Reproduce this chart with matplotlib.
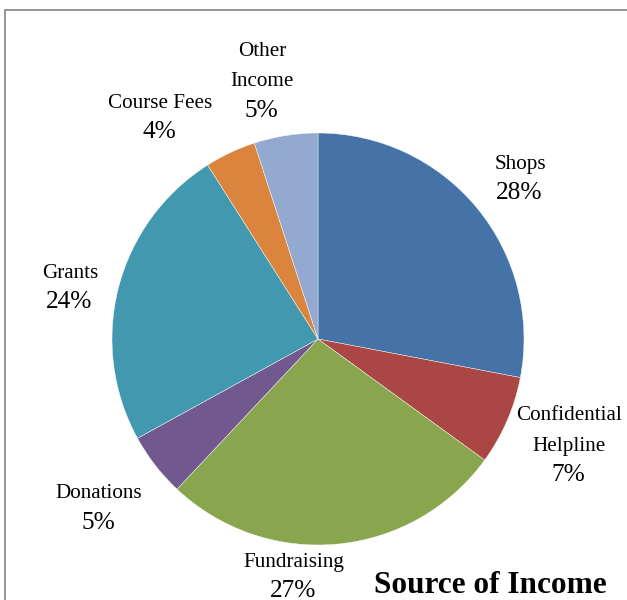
import matplotlib
matplotlib.use("Agg")
import matplotlib.pyplot as plt
from matplotlib.patches import Rectangle

# income sources, clockwise from 12 o'clock
sources = ["Shops", "Confidential\nHelpline", "Fundraising", "Donations",
           "Grants", "Course Fees", "Other\nIncome"]
shares = [28, 7, 27, 5, 24, 4, 5]
colours = ["#4572A7", "#AA4643", "#89A54E", "#71588F",
           "#4198AF", "#DB843D", "#93A9CF"]

W, H = 627, 600
# label anchors in pixels (x, y of the first line, from top-left)
label_xy = [(520, 164), (569, 416), (294, 562), (99, 494),
            (70, 273), (160, 103), (262, 52)]

plt.rcParams['font.family'] = ['Liberation Serif', 'DejaVu Serif']

fig = plt.figure(figsize=(W / 100, H / 100), dpi=100)
ax = fig.add_axes([0, 0, 1, 1])


def py(y):
    return H - y


ax.pie(shares, colors=colours, startangle=90, counterclock=False,
       center=(318, py(339)), radius=206,
       wedgeprops=dict(edgecolor="white", linewidth=0.3))
ax.set_xlim(0, W)
ax.set_ylim(0, H)
ax.set_aspect("equal")
ax.axis("off")

line_h = 30
for name, share, (x, y) in zip(sources, shares, label_xy):
    lines = name.split("\n")
    for i, ln in enumerate(lines):
        ax.text(x, py(y + i * line_h), ln, ha="center", va="center",
                fontsize=15.2)
    ax.text(x - 1, py(y + len(lines) * line_h - 1), f"{share}%",
            ha="center", va="center", fontsize=18.3)

ax.text(490, py(593), "Source of Income", ha="center", va="baseline",
        fontsize=22.5, fontweight="bold")

# chart area border (runs off the right and bottom)
ax.add_patch(Rectangle((4.5, py(700)), 700, 700 - 9.5, fill=False,
                       edgecolor="#8c8c8c", linewidth=1.3, clip_on=False))

fig.savefig("out.png", dpi=100)
